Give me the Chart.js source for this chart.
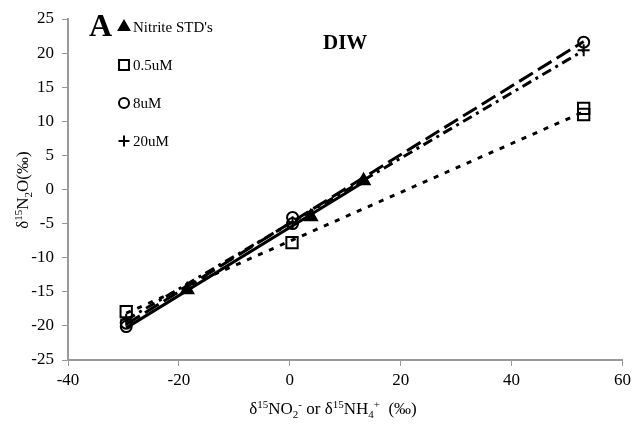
<!DOCTYPE html>
<html>
<head>
<meta charset="utf-8">
<script src="https://cdn.jsdelivr.net/npm/chart.js@4"></script>
<style>
  html, body { margin: 0; padding: 0; background: #fff; }
  #wrap { width: 635px; height: 431px; }
</style>
</head>
<body>
<div id="wrap"><canvas id="isoChart" width="635" height="431"></canvas></div>
<script>
// values (x = d15N of NO2- / NH4+, y = d15N of N2O)
const nitriteX = [-18.5, 3.8, 13.3];
const nitriteY = [-14.7, -4.0, 1.3];
const halfX = [-29.5, 0.4, 53, 53];
const halfY = [-17.9, -7.8, 11.0, 11.9];
const eightX = [-29.5, -29.5, 0.5, 0.5, 53];
const eightY = [-19.6, -20.1, -4.1, -5.0, 21.6];
const twentyX = [-29.5, 0.5, 53];
const twentyY = [-19.1, -4.8, 20.4];
// x range each trendline is drawn over
const nitriteFitRange = [-29.5, 13.5];
const halfFitRange = [-29.5, 53];
const eightFitRange = [-29.5, 53];
const twentyFitRange = [-29.5, 53];
const xTicks = [-40, -20, 0, 20, 40, 60];
const yTicks = [-25, -20, -15, -10, -5, 0, 5, 10, 15, 20, 25];

const serif = '"Liberation Serif", "Times New Roman", serif';

function pts(xs, ys) {
  return xs.map((x, i) => ({ x: x, y: ys[i] }));
}

// least squares line, evaluated at the ends of the range
function fit(xs, ys, range) {
  const n = xs.length;
  const mx = xs.reduce((a, b) => a + b, 0) / n;
  const my = ys.reduce((a, b) => a + b, 0) / n;
  let sxy = 0, sxx = 0;
  for (let i = 0; i < n; i++) {
    sxy += (xs[i] - mx) * (ys[i] - my);
    sxx += (xs[i] - mx) * (xs[i] - mx);
  }
  const b = sxy / sxx;
  const a = my - b * mx;
  return range.map(x => ({ x: x, y: a + b * x }));
}

function trend(data, dash, width) {
  return {
    type: 'line', data: data, borderColor: '#000', borderWidth: width,
    borderDash: dash, pointRadius: 0, fill: false, showLine: true
  };
}

function marks(data, style, radius, filled) {
  return {
    type: 'scatter', data: data, pointStyle: style, pointRadius: radius,
    borderColor: '#000', borderWidth: 2,
    backgroundColor: filled ? '#000' : 'rgba(255,255,255,0)'
  };
}

// draws text made of normal / sup / sub pieces
function richText(ctx, parts, x, y, size, align) {
  const widths = parts.map(p => {
    ctx.font = (p.sup || p.sub ? Math.round(size * 0.62) : size) + 'px ' + serif;
    return ctx.measureText(p.t).width;
  });
  const total = widths.reduce((a, b) => a + b, 0);
  let cx = align === 'center' ? x - total / 2 : x;
  parts.forEach((p, i) => {
    ctx.font = (p.sup || p.sub ? Math.round(size * 0.62) : size) + 'px ' + serif;
    let dy = 0;
    if (p.sup) dy = -size * 0.38;
    if (p.sub) dy = size * 0.22;
    ctx.fillText(p.t, cx, y + dy);
    cx += widths[i];
  });
}

const legendRows = [
  { label: "Nitrite STD's", style: 'triangle', radius: 6, filled: true },
  { label: '0.5uM', style: 'rect', radius: 7, filled: false },
  { label: '8uM', style: 'circle', radius: 5, filled: false },
  { label: '20uM', style: 'cross', radius: 5.5, filled: false }
];

const annotations = {
  id: 'annotations',
  afterDraw(chart) {
    const ctx = chart.ctx;
    ctx.save();
    ctx.fillStyle = '#000';
    ctx.textBaseline = 'alphabetic';
    ctx.textAlign = 'left';

    ctx.font = 'bold 32px ' + serif;
    ctx.fillText('A', 89, 36);
    ctx.font = 'bold 21px ' + serif;
    ctx.fillText('DIW', 323, 49);

    legendRows.forEach((r, i) => {
      const y = 27 + i * 38;
      ctx.strokeStyle = '#000';
      ctx.fillStyle = r.filled ? '#000' : 'rgba(0,0,0,0)';
      ctx.lineWidth = 2;
      Chart.helpers.drawPoint(ctx, { pointStyle: r.style, radius: r.radius, borderWidth: 2 }, 124, y);
      ctx.fillStyle = '#000';
      ctx.font = '15px ' + serif;
      ctx.textBaseline = 'middle';
      ctx.fillText(r.label, 133, y + 1);
      ctx.textBaseline = 'alphabetic';
    });

    // x axis title
    richText(ctx, [
      { t: 'δ' }, { t: '15', sup: true }, { t: 'NO' }, { t: '2', sub: true }, { t: '-', sup: true },
      { t: ' or δ' }, { t: '15', sup: true }, { t: 'NH' }, { t: '4', sub: true }, { t: '+', sup: true },
      { t: '  (‰)' }
    ], 333, 414, 17, 'center');

    // y axis title
    ctx.translate(28, 190);
    ctx.rotate(-Math.PI / 2);
    richText(ctx, [
      { t: 'δ' }, { t: '15', sup: true }, { t: 'N' }, { t: '2', sub: true }, { t: 'O(‰)' }
    ], 0, 0, 17, 'center');
    ctx.restore();
  }
};

const ctx = document.getElementById('isoChart').getContext('2d');
const isoChart = new Chart(ctx, {
  data: {
    datasets: [
      trend(fit(halfX, halfY, halfFitRange), [5, 7], 3),
      trend(fit(eightX, eightY, eightFitRange), [16, 6], 3),
      trend(fit(twentyX, twentyY, twentyFitRange), [10, 5, 3, 5], 3),
      trend(fit(nitriteX, nitriteY, nitriteFitRange), [], 3),
      marks(pts(nitriteX, nitriteY), 'triangle', 7, true),
      marks(pts(halfX, halfY), 'rect', 8, false),
      marks(pts(eightX, eightY), 'circle', 5.5, false),
      marks(pts(twentyX, twentyY), 'cross', 6, false)
    ]
  },
  options: {
    responsive: false,
    animation: false,
    layout: { padding: { top: 19, right: 10, left: 0, bottom: 0 } },
    plugins: { legend: { display: false }, tooltip: { enabled: false } },
    scales: {
      x: {
        type: 'linear', min: -40, max: 60,
        afterBuildTicks: s => { s.ticks = xTicks.map(v => ({ value: v })); },
        afterFit: s => { s.height = 71; },
        grid: { drawOnChartArea: false, drawTicks: true, tickLength: 6, color: '#999' },
        border: { color: '#999', width: 2 },
        ticks: { color: '#000', font: { family: serif, size: 17 }, padding: 4, maxRotation: 0 }
      },
      y: {
        type: 'linear', min: -25, max: 25,
        afterBuildTicks: s => { s.ticks = yTicks.map(v => ({ value: v })); },
        afterFit: s => { s.width = 68; },
        grid: { drawOnChartArea: false, drawTicks: true, tickLength: 6, color: '#999' },
        border: { color: '#999', width: 2 },
        ticks: { color: '#000', font: { family: serif, size: 17 }, padding: 8 }
      }
    }
  },
  plugins: [annotations]
});
</script>
</body>
</html>
